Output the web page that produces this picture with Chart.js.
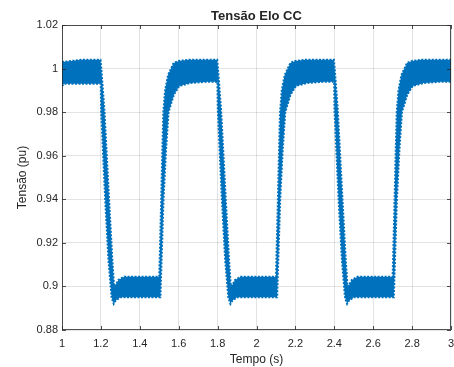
<!DOCTYPE html>
<html>
<head>
<meta charset="utf-8">
<script src="https://cdn.jsdelivr.net/npm/chart.js@4.4.1/dist/chart.umd.min.js"></script>
<style>
  html, body { margin: 0; padding: 0; background: #fff; }
  #wrap { width: 454px; height: 367px; }
</style>
</head>
<body>
<div id="wrap"><canvas id="myChart" width="454" height="367"></canvas></div>
<script>
// Upper edge of the oscillating band (time in s, voltage in pu)
const upperT = [1.000, 1.100, 1.198, 1.203, 1.218, 1.242, 1.259, 1.268, 1.278, 1.290, 1.320, 1.500,
  1.503, 1.510, 1.516, 1.521, 1.530, 1.545, 1.574, 1.600, 1.650, 1.798,
  1.803, 1.818, 1.842, 1.859, 1.868, 1.878, 1.890, 1.920, 2.100,
  2.103, 2.110, 2.116, 2.121, 2.130, 2.145, 2.174, 2.200, 2.250, 2.398,
  2.403, 2.418, 2.442, 2.459, 2.468, 2.478, 2.490, 2.520, 2.700,
  2.703, 2.710, 2.716, 2.721, 2.730, 2.745, 2.774, 2.800, 2.850, 3.000];
const upperV = [1.003, 1.004, 1.004, 0.999, 0.981, 0.940, 0.912, 0.900, 0.901, 0.903, 0.9045, 0.9045,
  0.915, 0.940, 0.963, 0.980, 0.990, 0.997, 1.0026, 1.0035, 1.004, 1.004,
  0.999, 0.981, 0.940, 0.912, 0.900, 0.901, 0.903, 0.9045, 0.9045,
  0.915, 0.940, 0.963, 0.980, 0.990, 0.997, 1.0026, 1.0035, 1.004, 1.004,
  0.999, 0.981, 0.940, 0.912, 0.900, 0.901, 0.903, 0.9045, 0.9045,
  0.915, 0.940, 0.963, 0.980, 0.990, 0.997, 1.0026, 1.0035, 1.004, 1.004];

// Lower edge of the band
const lowerT = [1.000, 1.010, 1.199, 1.201, 1.222, 1.239, 1.255, 1.266, 1.276, 1.300, 1.506,
  1.522, 1.535, 1.548, 1.575, 1.603, 1.660, 1.750, 1.799,
  1.801, 1.822, 1.839, 1.855, 1.866, 1.876, 1.900, 2.106,
  2.122, 2.135, 2.148, 2.175, 2.203, 2.260, 2.350, 2.399,
  2.401, 2.422, 2.439, 2.455, 2.466, 2.476, 2.500, 2.706,
  2.722, 2.735, 2.748, 2.775, 2.803, 2.860, 2.950, 3.000];
const lowerV = [0.992, 0.993, 0.993, 0.981, 0.940, 0.912, 0.895, 0.892, 0.8935, 0.895, 0.895,
  0.940, 0.963, 0.980, 0.988, 0.992, 0.9934, 0.994, 0.994,
  0.981, 0.940, 0.912, 0.895, 0.892, 0.8935, 0.895, 0.895,
  0.940, 0.963, 0.980, 0.988, 0.992, 0.9934, 0.994, 0.994,
  0.981, 0.940, 0.912, 0.895, 0.892, 0.8935, 0.895, 0.895,
  0.940, 0.963, 0.980, 0.988, 0.992, 0.9934, 0.994, 0.994];

// Tick positions and labels
const xTicks = [1, 1.2, 1.4, 1.6, 1.8, 2, 2.2, 2.4, 2.6, 2.8, 3];
const xTickLabels = ['1', '1.2', '1.4', '1.6', '1.8', '2', '2.2', '2.4', '2.6', '2.8', '3'];
const yTicks = [0.88, 0.9, 0.92, 0.94, 0.96, 0.98, 1, 1.02];
const yTickLabels = ['0.88', '0.9', '0.92', '0.94', '0.96', '0.98', '1', '1.02'];

const titleText = 'Tensão Elo CC';
const lineColor = '#0072BD';
const textColor = '#262626';
const gridColor = 'rgba(38, 38, 38, 0.13)';
const fontFamily = "'Liberation Sans', Arial, sans-serif";

const toPoints = (ts, vs) => ts.map((t, i) => ({ x: t, y: vs[i] }));

// MATLAB-like box with inward ticks on all four sides, title centred over the axes
const boxPlugin = {
  id: 'matlabBox',
  afterDraw(chart) {
    const { ctx, chartArea: a, scales } = chart;
    const tl = 4;
    ctx.save();
    ctx.strokeStyle = 'rgba(38, 38, 38, 0.8)';
    ctx.lineWidth = 1;
    ctx.strokeRect(Math.round(a.left) + 0.5, Math.round(a.top) + 0.5,
      Math.round(a.right - a.left) - 1, Math.round(a.bottom - a.top) - 1);
    ctx.beginPath();
    xTicks.forEach(v => {
      const px = Math.round(scales.x.getPixelForValue(v)) + 0.5;
      ctx.moveTo(px, a.bottom); ctx.lineTo(px, a.bottom - tl);
      ctx.moveTo(px, a.top); ctx.lineTo(px, a.top + tl);
    });
    yTicks.forEach(v => {
      const py = Math.round(scales.y.getPixelForValue(v)) + 0.5;
      ctx.moveTo(a.left, py); ctx.lineTo(a.left + tl, py);
      ctx.moveTo(a.right, py); ctx.lineTo(a.right - tl, py);
    });
    ctx.stroke();

    ctx.fillStyle = textColor;
    ctx.font = 'bold 13px ' + fontFamily;
    ctx.textAlign = 'center';
    ctx.textBaseline = 'middle';
    ctx.fillText(titleText, (a.left + a.right) / 2, 16);
    ctx.restore();
  }
};

const canvas = document.getElementById('myChart');

// dashed edges give the rippled look of the oscillation envelope
const data = {
  datasets: [
    {
      label: 'upper',
      data: toPoints(upperT, upperV),
      borderColor: lineColor,
      backgroundColor: lineColor,
      borderWidth: 2,
      borderDash: [2, 1.5],
      pointRadius: 0,
      tension: 0,
      fill: '+1'
    },
    {
      label: 'lower',
      data: toPoints(lowerT, lowerV),
      borderColor: lineColor,
      backgroundColor: lineColor,
      borderWidth: 2,
      borderDash: [2, 1.5],
      pointRadius: 0,
      tension: 0,
      fill: false
    }
  ]
};

const options = {
  responsive: false,
  animation: false,
  layout: { padding: { left: 0, right: 3, top: 25, bottom: 0 } },
  plugins: {
    legend: { display: false },
    tooltip: { enabled: false },
    title: { display: false }
  },
  scales: {
    x: {
      type: 'linear',
      min: 1,
      max: 3,
      afterFit(scale) {
        scale.height = 37;
        scale.paddingLeft = 0;
        scale.paddingRight = 0;
      },
      afterBuildTicks(scale) { scale.ticks = xTicks.map(v => ({ value: v })); },
      grid: { color: gridColor, drawTicks: false },
      border: { display: false },
      ticks: {
        color: textColor,
        padding: 7,
        maxRotation: 0,
        autoSkip: false,
        font: { family: fontFamily, size: 11 },
        callback: (v, i) => xTickLabels[i]
      },
      title: {
        display: true,
        text: 'Tempo (s)',
        color: textColor,
        font: { family: fontFamily, size: 12 },
        padding: { top: 0, bottom: 0 }
      }
    },
    y: {
      type: 'linear',
      min: 0.88,
      max: 1.02,
      afterFit(scale) {
        scale.width = 62;
        scale.paddingTop = 0;
        scale.paddingBottom = 0;
      },
      afterBuildTicks(scale) { scale.ticks = yTicks.map(v => ({ value: v })); },
      grid: { color: gridColor, drawTicks: false },
      border: { display: false },
      ticks: {
        color: textColor,
        padding: 4,
        autoSkip: false,
        font: { family: fontFamily, size: 11 },
        callback: (v, i) => yTickLabels[i]
      },
      title: {
        display: true,
        text: 'Tensão (pu)',
        color: textColor,
        font: { family: fontFamily, size: 12 },
        padding: { top: 15, bottom: 0 }
      }
    }
  }
};

try {
  new Chart(canvas, { type: 'line', data: data, options: options, plugins: [boxPlugin] });
} catch (error) {
  console.error('Failed to initialize chart:', error);
}
</script>
</body>
</html>
